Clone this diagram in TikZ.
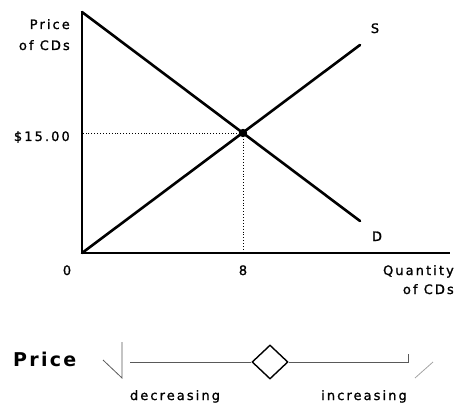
\documentclass[tikz,border=0pt]{standalone}
\usepackage{fontspec}
\setmainfont{DejaVu Sans}
\newfontfamily\chartfont[LetterSpace=16, FakeBold=1.2]{DejaVu Sans}
\newfontfamily\chartbold[LetterSpace=12]{DejaVu Sans Bold}
\usetikzlibrary{shapes.geometric, positioning, calc}

\begin{document}
\begin{tikzpicture}[x=1pt, y=-1pt,
    axis/.style={draw=black, line width=1.3pt},
    curve/.style={draw=black, line width=2.6pt, line cap=round},
    guide/.style={draw=black, line width=0.9pt, dotted},
    lbl/.style={font=\chartfont\fontsize{13}{15}\selectfont, inner sep=0pt},
    knob/.style={diamond, draw=black, line width=1.4pt, fill=white, minimum width=36pt, minimum height=34pt, inner sep=0pt},
    track/.style={draw=black!65, line width=0.8pt},
    faint/.style={draw=black!35, line width=0.8pt}
]
\useasboundingbox (0,0) rectangle (456,404);

% axes and curves
\coordinate (origin) at (82,253);
\coordinate (ytop) at (82,12);
\coordinate (xend) at (450,253);
\coordinate (eq) at (243,133);
\coordinate (dend) at (360,221);
\coordinate (send) at (360,45);

\draw[axis] (ytop) -- (origin) -- (xend);
\draw[guide] (eq) -- (eq -| origin);
\draw[guide] (eq) -- (eq |- origin);
\draw[curve] (ytop) -- (dend);
\draw[curve] (origin) -- (send);
\fill (eq) circle (4.2pt);

\node[lbl, anchor=base east] (ylab) at (70,29) {Price};
\node[lbl, anchor=base east] (ylab2) at (70,50) {of CDs};
\node[lbl, anchor=base east] (pstar) at (70,141) {\$15.00};
\node[lbl, anchor=base] (zero) at (67,275) {0};
\node[lbl, anchor=base] (qstar) at (243,275) {8};
\node[lbl, anchor=base east] (xlab) at (454,275) {Quantity};
\node[lbl, anchor=base east] (xlab2) at (454,294) {of CDs};
\node[lbl, anchor=base] (slab) at (375,33) {S};
\node[lbl, anchor=base] (dlab) at (377,241) {D};

% price slider
\node[font=\chartbold\fontsize{19}{21}\selectfont, inner sep=0pt, anchor=base west] (plab) at (13,366) {Price};
\node[knob] (knob) at (270,362) {};
\coordinate (tl) at (122,342);
\coordinate (bl) at (122,378);
\coordinate (kl) at (103,360);
\coordinate (tstart) at (130,362);
\coordinate (tend) at (408,362);
\coordinate (tup) at (408,354);
\coordinate (kr1) at (415,378);
\coordinate (kr2) at (433,362);

\draw[track] (tl) -- (bl) -- (kl);
\draw[track] (tstart) -- (knob.west);
\draw[track] (knob.east) -- (tend) -- (tup);
\draw[faint] (kr1) -- (kr2);

\node[lbl, anchor=base] (dec) at (175,400) {decreasing};
\node[lbl, anchor=base] (inc) at (364,400) {increasing};
\end{tikzpicture}
\end{document}
